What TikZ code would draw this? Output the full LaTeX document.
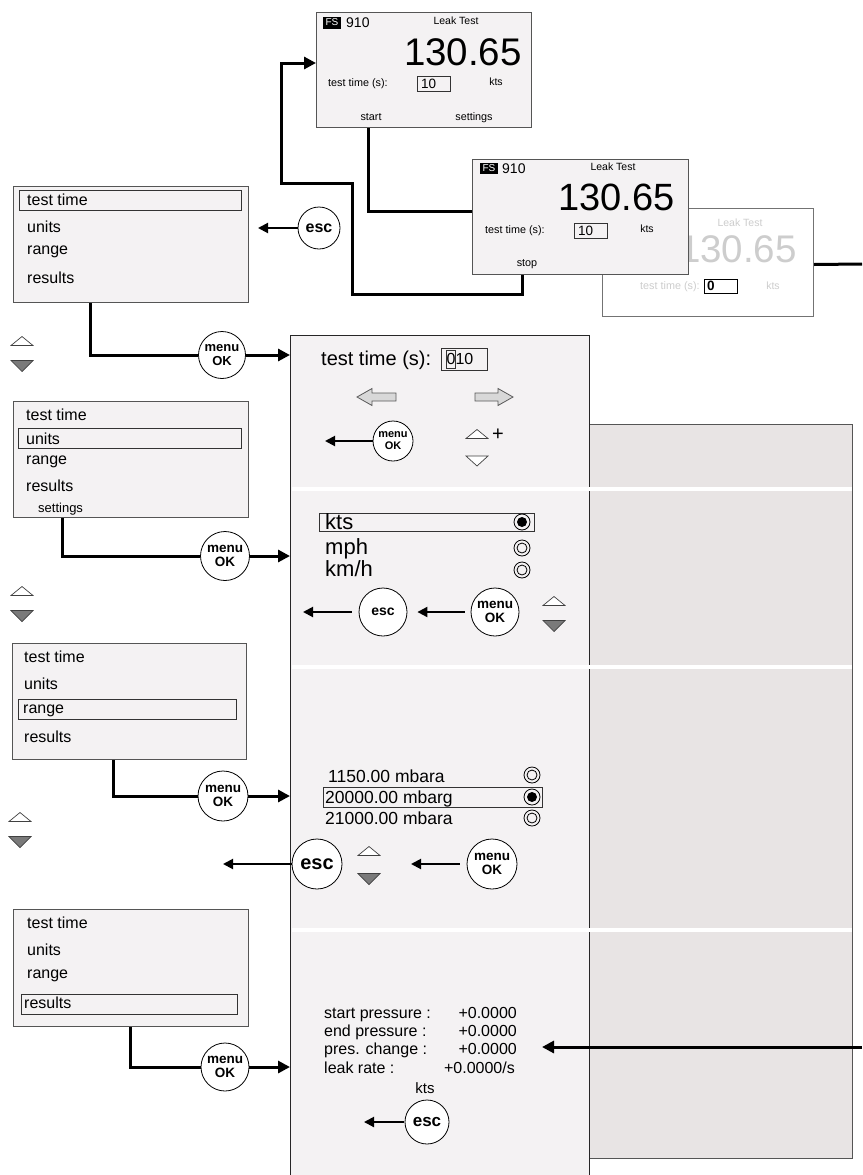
\documentclass[tikz,border=0pt]{standalone}
\usepackage{fontspec}
\setmainfont{Liberation Sans}
\usetikzlibrary{arrows.meta,calc}
\newcommand{\fsz}[1]{\fontsize{#1}{#1}\selectfont}
\definecolor{scrfill}{HTML}{F4F2F3}
\definecolor{rightfill}{HTML}{E8E4E4}
\definecolor{bordergray}{HTML}{555555}
\definecolor{ghost}{HTML}{CDCDCD}
\definecolor{trigray}{HTML}{7A7A7A}
\definecolor{blockfill}{HTML}{D8D8D8}
\tikzset{
  conn/.style={line width=3pt},
  bigarr/.style={-{Triangle[length=12pt,width=12pt]}},
  sarr/.style={line width=2pt,-{Triangle[length=10pt,width=10pt]}},
  btn/.style={circle,draw,fill=white,line width=0.8pt,inner sep=0pt,align=center},
  menubox/.style={draw=bordergray,fill=scrfill,line width=1pt,inner sep=0pt,anchor=north west},
  screen/.style={draw=bordergray,fill=scrfill,line width=1pt,inner sep=0pt,anchor=north west},
  txs/.style={inner sep=0pt,font=\fsz{#1},text height={0.72*#1pt},text depth=0pt},
  mtx/.style={txs=16,anchor=west},
  uptri/.pic={\draw[draw=black!75,fill=white,line width=0.7pt] (-11,4.5) -- (11,4.5) -- (0,-4.5) -- cycle;},
  downtri/.pic={\draw[draw=black!75,fill=trigray,line width=0.7pt] (-11,-5.5) -- (11,-5.5) -- (0,5.5) -- cycle;},
  downtriw/.pic={\draw[draw=black!75,fill=white,line width=0.7pt] (-11,-5) -- (11,-5) -- (0,5) -- cycle;},
  radioon/.pic={\draw[line width=0.8pt] (0,0) circle (8); \fill (0,0) circle (5);},
  radiooff/.pic={\draw[line width=0.8pt] (0,0) circle (8); \draw[line width=0.8pt] (0,0) circle (5);},
}
\begin{document}
\begin{tikzpicture}[x=1pt,y=-1pt]
\useasboundingbox (0,0) rectangle (862,1175);
\fill[white] (0,0) rectangle (862,1175);

% ---------- panels ----------
\node[draw=bordergray,fill=rightfill,line width=1pt,minimum width=264pt,minimum height=734pt,anchor=north west,inner sep=0pt] (rpanel) at (588,424) {};
\node[draw=black!85,fill=scrfill,line width=1pt,minimum width=299pt,minimum height=850pt,anchor=north west,inner sep=0pt] (panel) at (290,335) {};
\foreach \yy in {489,667,930} \draw[white,line width=3.5pt] (291.5,\yy) -- (851.5,\yy);

% ---------- top screen ----------
\node[screen,minimum width=215pt,minimum height=115pt] (scrA) at (316,12) {};
\node[fill=black,text=white,font=\fsz{10},minimum width=18pt,minimum height=12pt,inner sep=0pt] (fsA) at (332,22.5) {FS};
\node[txs=14,anchor=west] (numA) at (346,22.5) {910};
\node[txs=10.5] (ltA) at (456,21) {Leak Test};
\node[txs=38.5,anchor=east] (valA) at (522,52) {130.65};
\node[txs=10.8,anchor=west] (ttA) at (328,83) {test time (s):};
\node[draw=black!80,line width=0.9pt,minimum width=33pt,minimum height=15pt,anchor=north west,inner sep=0pt] (boxA) at (417,76) {};
\node[txs=13.5,anchor=west] (tvA) at (421,84) {10};
\node[txs=10.5] (ktsA) at (496,82) {kts};
\node[txs=10.8] (startA) at (371,117) {start};
\node[txs=10.8] (setA) at (474,117) {settings};

% ---------- ghost screen ----------
\node[draw=black!55,fill=white,line width=1pt,minimum width=211pt,minimum height=108pt,anchor=north west,inner sep=0pt] (scrC) at (602,208) {};
\node[txs=10.5,text=ghost] (ltC) at (740,223) {Leak Test};
\node[txs=38.5,anchor=east,text=ghost] (valC) at (797,249) {130.65};
\node[txs=10.8,anchor=west,text=ghost] (ttC) at (640,286) {test time (s):};
\node[draw=black,line width=1pt,minimum width=33pt,minimum height=14pt,anchor=north west,inner sep=0pt] (boxC) at (704,279) {};
\node[txs=13.5,anchor=west,font=\bfseries\fsz{13.5}] (tvC) at (707,286) {0};
\node[txs=10.5,text=ghost] (ktsC) at (773,286) {kts};

% ---------- second screen ----------
\node[screen,minimum width=216pt,minimum height=115pt] (scrB) at (472,159) {};
\node[fill=black,text=white,font=\fsz{10},minimum width=18pt,minimum height=11pt,inner sep=0pt] (fsB) at (489,168) {FS};
\node[txs=14,anchor=west] (numB) at (502,168) {910};
\node[txs=10.5] (ltB) at (613,167) {Leak Test};
\node[txs=38,anchor=east] (valB) at (675,197) {130.65};
\node[txs=10.8,anchor=west] (ttB) at (485,230) {test time (s):};
\node[draw=black!80,line width=0.9pt,minimum width=33pt,minimum height=15pt,anchor=north west,inner sep=0pt] (boxB) at (574,223) {};
\node[txs=13.5,anchor=west] (tvB) at (578,231) {10};
\node[txs=10.5] (ktsB) at (647,229) {kts};
\node[txs=10.8] (stopB) at (527,263) {stop};

% ---------- top connectors ----------
\coordinate (c63) at (281,63);
\coordinate (outR) at (862,264);
\draw[conn] ([xshift=-3pt]startA |- scrA.south) |- ([yshift=5.5pt]scrB.west);
\draw[conn,bigarr] ([xshift=-5pt]stopB |- scrB.south) -- ++(0,19) -| (352,183) -| (c63) -- (scrA.west |- c63);
\draw[conn] ([yshift=-2pt]scrC.east) -- (outR);

% ---------- menu 1 ----------
\node[menubox,minimum width=235pt,minimum height=116pt] (menu1) at (13,186) {};
\node[menubox,fill=none,minimum width=222pt,minimum height=20pt,draw=black!80] (hl1) at (19,190) {};
\node[mtx] (m1a) at (27,200) {test time};
\node[mtx] (m1b) at (27,227) {units};
\node[mtx] (m1c) at (27,249) {range};
\node[mtx] (m1d) at (27,278) {results};
\node[btn,minimum size=42pt,font=\bfseries\fsz{16}] (esc1) at (319,228) {esc};
\draw[sarr] (esc1.west) -- ([xshift=9pt]menu1.east |- esc1);
\pic at (22,341) {uptri};
\pic at (22,366) {downtri};
\node[btn,minimum size=47pt,font=\bfseries\fontsize{13}{14}\selectfont] (ok1) at (222,355) {menu\\OK};
\draw[conn] ([xshift=-40.5pt]menu1.south) |- (ok1.west);
\draw[conn,bigarr] (ok1.east) -- (panel.west |- ok1);

% ---------- panel: test time ----------
\node[txs=20,anchor=west] (ptt) at (321,358) {test time (s):};
\node[draw=black!80,line width=0.9pt,minimum width=46pt,minimum height=22pt,anchor=north west,inner sep=0pt] (pbox) at (441,348) {};
\node[draw=black!80,line width=0.9pt,minimum width=9pt,minimum height=18pt,anchor=north west,inner sep=0pt] (pcur) at (446,350) {};
\node[txs=16,anchor=west] (pval) at (446.5,359) {010};
\draw[draw=black!65,fill=blockfill,line width=0.8pt] (357,397) -- (372,388.5) -- (372,393) -- (396,393) -- (396,401) -- (372,401) -- (372,405.5) -- cycle;
\draw[draw=black!65,fill=blockfill,line width=0.8pt] (513,397) -- (498,388.5) -- (498,393) -- (475,393) -- (475,401) -- (498,401) -- (498,405.5) -- cycle;
\node[btn,minimum size=40pt,font=\bfseries\fontsize{11}{12}\selectfont] (ok5) at (393,441) {menu\\OK};
\coordinate (t5) at (325,441);
\draw[sarr] (ok5.west) -- (t5);
\pic at (477,434) {uptri};
\node[txs=20] (plus) at (498,433) {+};
\pic at (477,461) {downtriw};

% ---------- menu 2 ----------
\node[menubox,minimum width=235pt,minimum height=116pt] (menu2) at (13,401) {};
\node[menubox,fill=none,minimum width=223pt,minimum height=20pt,draw=black!80] (hl2) at (18,428) {};
\node[mtx] (m2a) at (26,415) {test time};
\node[mtx] (m2b) at (26,439) {units};
\node[mtx] (m2c) at (26,459) {range};
\node[mtx] (m2d) at (26,486) {results};
\node[txs=13,anchor=west] (m2e) at (38,508) {settings};
\node[btn,minimum size=49pt,font=\bfseries\fontsize{13.5}{14.5}\selectfont] (ok2) at (225,556) {menu\\OK};
\draw[conn] ([xshift=-68.5pt]menu2.south) |- (ok2.west);
\draw[conn,bigarr] (ok2.east) -- (panel.west |- ok2);
\pic at (22,591) {uptri};
\pic at (22,616) {downtri};

% ---------- panel: units ----------
\node[menubox,fill=none,minimum width=215pt,minimum height=18pt,draw=black!80] (hlu) at (319,513) {};
\node[txs=22,anchor=west] (u1) at (325,522) {kts};
\node[txs=22,anchor=west] (u2) at (325,547) {mph};
\node[txs=22,anchor=west] (u3) at (325,569) {km/h};
\pic at (522,522) {radioon};
\pic at (522,548) {radiooff};
\pic at (522,570) {radiooff};
\node[btn,minimum size=48pt,font=\bfseries\fsz{14}] (esc2) at (383,612) {esc};
\node[btn,minimum size=48pt,font=\bfseries\fontsize{13.5}{14.5}\selectfont] (ok6) at (495,612) {menu\\OK};
\coordinate (t2) at (303,612);
\draw[sarr,shorten <=6pt,shorten >=10pt] (ok6.west) -- (esc2.east);
\draw[sarr,shorten <=7pt] (esc2.west) -- (t2);
\pic at (554,601) {uptri};
\pic at (554,626) {downtri};

% ---------- menu 3 ----------
\node[menubox,minimum width=234pt,minimum height=116pt] (menu3) at (12,643) {};
\node[menubox,fill=none,minimum width=218pt,minimum height=20pt,draw=black!80] (hl3) at (18,699) {};
\node[mtx] (m3a) at (24,657) {test time};
\node[mtx] (m3b) at (24,684) {units};
\node[mtx] (m3c) at (23,708) {range};
\node[mtx] (m3d) at (24,737) {results};
\node[btn,minimum size=50pt,font=\bfseries\fontsize{13.5}{14.5}\selectfont] (ok3) at (223,796) {menu\\OK};
\draw[conn] ([xshift=-16pt]menu3.south) |- (ok3.west);
\draw[conn,bigarr] (ok3.east) -- (panel.west |- ok3);
\pic at (20,817) {uptri};
\pic at (20,842) {downtri};

% ---------- panel: range ----------
\node[menubox,fill=none,minimum width=219pt,minimum height=20pt,draw=black!80] (hlr) at (323,787) {};
\node[txs=17.5,anchor=west] (r1) at (328,776) {1150.00 mbara};
\node[txs=17.5,anchor=west] (r2) at (325,797) {20000.00 mbarg};
\node[txs=17.5,anchor=west] (r3) at (325,818) {21000.00 mbara};
\pic at (532,775) {radiooff};
\pic at (532,797) {radioon};
\pic at (532,818) {radiooff};
\node[btn,minimum size=50pt,font=\bfseries\fsz{20}] (esc3) at (317,864) {esc};
\coordinate (t3) at (223,864);
\draw[sarr] (esc3.west) -- (t3);
\pic at (369,851) {uptri};
\pic at (369,879) {downtri};
\node[btn,minimum size=50pt,font=\bfseries\fontsize{13.5}{14.5}\selectfont] (ok7) at (492,864) {menu\\OK};
\coordinate (t7) at (411,864);
\draw[sarr,shorten <=7pt] (ok7.west) -- (t7);

% ---------- menu 4 ----------
\node[menubox,minimum width=235pt,minimum height=117pt] (menu4) at (13,909) {};
\node[menubox,fill=none,minimum width=216pt,minimum height=20pt,draw=black!80] (hl4) at (21,994) {};
\node[mtx] (m4a) at (27,923) {test time};
\node[mtx] (m4b) at (27,950) {units};
\node[mtx] (m4c) at (27,973) {range};
\node[mtx] (m4d) at (24,1003) {results};
\node[btn,minimum size=48pt,font=\bfseries\fontsize{13.5}{14.5}\selectfont] (ok4) at (225,1067) {menu\\OK};
\draw[conn] ([xshift=-0.5pt]menu4.south) |- (ok4.west);
\draw[conn,bigarr] (ok4.east) -- (panel.west |- ok4);

% ---------- panel: results ----------
\node[txs=16,anchor=west] (s1) at (324,1013) {start pressure :};
\node[txs=16,anchor=west] (s2) at (324,1031) {end pressure :};
\node[txs=16,anchor=west] (s3) at (324,1049) {pres. change :};
\node[txs=16,anchor=west] (s4) at (324,1068) {leak rate :};
\node[txs=16,anchor=east] (v1) at (517,1013) {+0.0000};
\node[txs=16,anchor=east] (v2) at (517,1031) {+0.0000};
\node[txs=16,anchor=east] (v3) at (517,1049) {+0.0000};
\node[txs=16,anchor=east] (v4) at (515,1068) {+0.0000/s};
\node[txs=15] (kr) at (425,1088) {kts};
\node[btn,minimum size=44pt,font=\bfseries\fsz{17}] (esc4) at (427,1122) {esc};
\coordinate (t4) at (364,1122);
\draw[sarr,shorten <=1pt] (esc4.west) -- (t4);

\coordinate (inR2) at (862,1047);
\coordinate (tipR2) at (542,1047);
\draw[conn,bigarr] (inR2) -- (tipR2);
\end{tikzpicture}
\end{document}
